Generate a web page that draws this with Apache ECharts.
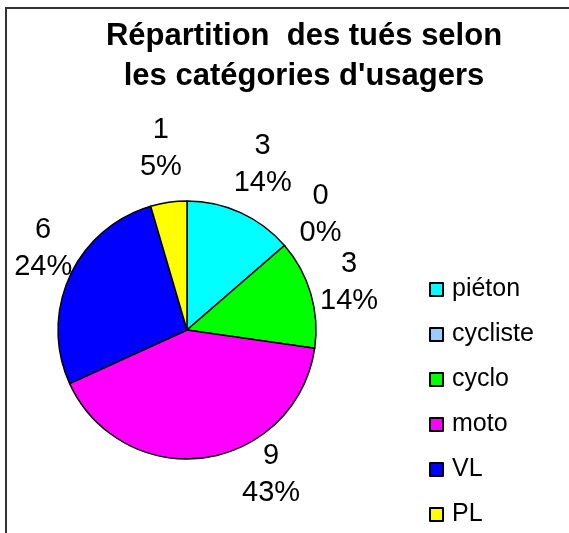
<!DOCTYPE html>
<html><head><meta charset="utf-8">
<script src="https://cdn.jsdelivr.net/npm/echarts@6/dist/echarts.min.js"></script>
<style>html,body{margin:0;padding:0;background:#fff}#c{width:569px;height:533px}</style>
</head><body><div id="c"></div>
<script>
const categories = ['piéton', 'cycliste', 'cyclo', 'moto', 'VL', 'PL'];
const values = [3, 0, 3, 9, 6, 1];
const percentLabels = ['14%', '0%', '14%', '43%', '24%', '5%'];
const colors = ['#00FFFF', '#99CCFF', '#00FF00', '#FF00FF', '#0000FF', '#FFFF00'];

const FONT = 'Liberation Sans, Arial, sans-serif';
const CX = 187, CY = 330, R = 129;
const total = values.reduce((a, b) => a + b, 0);
const midAngles = [];
let acc = 0;
values.forEach(v => { midAngles.push((acc + v / 2) / total * 2 * Math.PI); acc += v; });
// label placement tweak (Excel-like): labels near top/bottom sit further out
const labelNudge = {
  moto: { da: -22 * Math.PI / 180, dr: -14 },
  VL: { da: 5 * Math.PI / 180, dr: -8 }
};

const chart = echarts.init(document.getElementById('c'), null, { renderer: 'canvas' });
chart.setOption({
  animation: false,
  backgroundColor: '#fff',
  graphic: [{
    type: 'rect', shape: { x: 6, y: 8, width: 700, height: 700 },
    style: { fill: 'none', stroke: '#333', lineWidth: 2 }, silent: true, z: -1
  }],
  title: {
    text: 'Répartition  des tués selon\nles catégories d\'usagers',
    left: 304, top: 16, textAlign: 'center', padding: 0,
    textStyle: { fontFamily: FONT, fontWeight: 'bold', fontSize: 31, lineHeight: 40, color: '#000' }
  },
  legend: {
    orient: 'vertical', left: 429, top: 277, height: 300, padding: 0,
    itemWidth: 13, itemHeight: 13, itemGap: 20, icon: 'rect',
    itemStyle: { borderColor: '#000', borderWidth: 2 },
    textStyle: { fontFamily: FONT, fontSize: 25, lineHeight: 25, color: '#000', padding: [0, 0, 0, 4] },
    selectedMode: false,
    data: categories
  },
  series: [{
    type: 'pie',
    center: [CX, CY], radius: R,
    startAngle: 90, clockwise: true,
    avoidLabelOverlap: false,
    data: categories.map((n, i) => ({ name: n, value: values[i], itemStyle: { color: colors[i] } })),
    itemStyle: { borderColor: '#000', borderWidth: 1.5 },
    label: {
      show: true, position: 'outside',
      formatter: p => p.value + '\n' + percentLabels[p.dataIndex],
      fontFamily: FONT, fontSize: 29, lineHeight: 37, color: '#000', align: 'center'
    },
    labelLine: { show: false },
    labelLayout: p => {
      const i = p.dataIndex;
      const nd = labelNudge[categories[i]] || { da: 0, dr: 0 };
      const a = midAngles[i] + nd.da;
      const d = 163 + 21 * Math.abs(Math.cos(a)) + nd.dr;
      return { x: CX + d * Math.sin(a), y: CY - d * Math.cos(a), align: 'center', verticalAlign: 'middle' };
    },
    emphasis: { disabled: true }
  }]
});
</script></body></html>
